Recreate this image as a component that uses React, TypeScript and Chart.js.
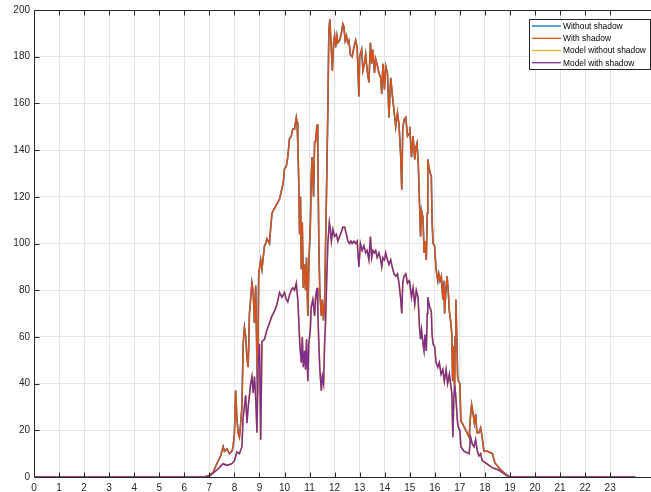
import React, { useEffect, useRef } from "react";
import { Chart, registerables } from "chart.js";

Chart.register(...registerables);

// ---------- data ----------
const xTickValues = [0, 1, 2, 3, 4, 5, 6, 7, 8, 9, 10, 11, 12, 13, 14, 15, 16, 17, 18, 19, 20, 21, 22, 23];
const yTickValues = [0, 20, 40, 60, 80, 100, 120, 140, 160, 180, 200];
const xMin = 0;
const xMax = 24.63;
const yMin = 0;
const yMax = 200;

const seriesLabels = ["Without shadow", "With shadow", "Model without shadow", "Model with shadow"];
const seriesColors = ["#0072BD", "#D95319", "#EDB120", "#7E2F8E"];

// measured power (hours of day)
const measuredHours = [
  0, 6.8, 7.0, 7.15, 7.3, 7.45, 7.55, 7.6, 7.7, 7.8, 7.9, 7.95, 8.0, 8.05, 8.1, 8.15, 8.2, 8.25, 8.3, 8.35,
  8.4, 8.45, 8.5, 8.55, 8.6, 8.7, 8.75, 8.8, 8.85, 8.92, 8.97, 9.05, 9.1, 9.2, 9.25, 9.3, 9.4, 9.45, 9.5, 9.65,
  9.8, 9.95, 10.0, 10.07, 10.13, 10.2, 10.27, 10.33, 10.4, 10.47, 10.5, 10.53, 10.57, 10.6, 10.64, 10.67, 10.71, 10.75, 10.8, 10.84,
  10.88, 10.93, 10.97, 11.03, 11.07, 11.1, 11.16, 11.2, 11.24, 11.3, 11.33, 11.37, 11.41, 11.47, 11.51, 11.56, 11.6, 11.64, 11.68, 11.73,
  11.77, 11.81, 11.87, 11.91, 11.96, 12.0, 12.04, 12.09, 12.13, 12.2, 12.27, 12.33, 12.37, 12.42, 12.47, 12.52, 12.57, 12.63, 12.7, 12.77,
  12.84, 12.9, 12.97, 13.0, 13.08, 13.13, 13.19, 13.24, 13.3, 13.37, 13.43, 13.48, 13.53, 13.59, 13.64, 13.71, 13.77, 13.84, 13.88, 13.93,
  13.99, 14.04, 14.11, 14.17, 14.24, 14.31, 14.37, 14.44, 14.51, 14.57, 14.64, 14.68, 14.72, 14.77, 14.84, 14.91, 14.97, 15.0, 15.07, 15.13,
  15.2, 15.24, 15.29, 15.34, 15.39, 15.43, 15.47, 15.53, 15.57, 15.61, 15.66, 15.7, 15.72, 15.76, 15.82, 15.86, 15.89, 15.93, 15.99, 16.05,
  16.12, 16.16, 16.21, 16.26, 16.32, 16.36, 16.39, 16.45, 16.49, 16.54, 16.58, 16.64, 16.68, 16.71, 16.75, 16.79, 16.81, 16.84, 16.88, 16.91,
  16.95, 17.0, 17.04, 17.1, 17.24, 17.37, 17.43, 17.47, 17.53, 17.58, 17.63, 17.68, 17.76, 17.83, 17.89, 17.96, 18.1, 18.3, 18.4, 18.6,
  18.8, 19.0, 24.0,
];
const withShadow = [
  0, 0, 0.7, 2, 5.7, 9, 13, 11, 12, 10, 11, 13, 18.6, 37, 25, 18.6, 17, 23, 30, 57,
  64, 60, 51, 47, 70, 83, 79, 66, 82, 35, 87, 93, 89, 99, 100, 102, 100, 107, 113, 116,
  119, 126, 132, 133, 137, 145, 146, 149, 149, 154, 152, 143, 126, 104, 120, 89, 109, 81, 91, 80,
  94, 69, 91, 107, 129, 137, 120, 143, 144, 151, 140, 100, 79, 69, 76, 67, 74, 100, 124, 157,
  191, 196, 183, 174, 186, 189, 184, 189, 186, 187, 190, 194, 193, 187, 189, 186, 187, 181, 180, 184,
  187, 184, 163, 180, 183, 174, 177, 181, 174, 169, 186, 177, 183, 173, 179, 176, 173, 171, 164, 177,
  166, 176, 173, 154, 171, 163, 157, 150, 156, 151, 137, 123, 149, 153, 154, 146, 147, 150, 137, 146,
  136, 141, 143, 134, 117, 103, 114, 111, 96, 101, 93, 113, 136, 133, 130, 129, 110, 100, 99, 89,
  84, 87, 84, 86, 76, 84, 70, 81, 86, 79, 71, 66, 61, 41, 56, 37, 60, 76, 59, 43,
  41, 40, 24, 23, 20, 17, 27, 31, 27, 23, 27, 19, 19, 21, 17, 11, 11, 10, 6, 3.5,
  1.5, 0, 0,
];
const withoutShadow = [...withShadow];

// model power (hours of day)
const modelHours = [
  0, 6.8, 7.0, 7.3, 7.55, 7.7, 7.9, 8.0, 8.1, 8.2, 8.3, 8.35, 8.4, 8.45, 8.5, 8.55, 8.65, 8.7, 8.75, 8.8,
  8.85, 8.9, 8.95, 9.0, 9.05, 9.1, 9.2, 9.3, 9.4, 9.5, 9.6, 9.7, 9.8, 9.9, 10.0, 10.07, 10.13, 10.2, 10.27, 10.33,
  10.4, 10.47, 10.53, 10.57, 10.61, 10.67, 10.71, 10.75, 10.8, 10.84, 10.88, 10.93, 10.97, 11.03, 11.07, 11.13, 11.2, 11.24, 11.3, 11.33,
  11.37, 11.41, 11.47, 11.51, 11.56, 11.6, 11.64, 11.68, 11.73, 11.79, 11.83, 11.87, 11.93, 12.0, 12.07, 12.13, 12.2, 12.27, 12.33, 12.4,
  12.47, 12.53, 12.6, 12.65, 12.7, 12.77, 12.84, 12.9, 12.97, 13.03, 13.1, 13.17, 13.24, 13.3, 13.37, 13.43, 13.48, 13.53, 13.59, 13.64,
  13.7, 13.77, 13.84, 13.88, 13.93, 13.99, 14.04, 14.11, 14.17, 14.24, 14.3, 14.37, 14.44, 14.51, 14.57, 14.64, 14.68, 14.72, 14.77, 14.84,
  14.91, 14.97, 15.0, 15.07, 15.13, 15.2, 15.26, 15.33, 15.39, 15.43, 15.47, 15.53, 15.57, 15.61, 15.66, 15.7, 15.72, 15.79, 15.86, 15.89,
  15.93, 15.99, 16.05, 16.12, 16.18, 16.25, 16.32, 16.38, 16.45, 16.51, 16.58, 16.64, 16.68, 16.72, 16.76, 16.8, 16.84, 16.91, 16.95, 17.0,
  17.04, 17.17, 17.37, 17.43, 17.5, 17.57, 17.63, 17.7, 17.76, 17.83, 17.89, 18.03, 18.29, 18.55, 18.75, 18.95, 24.0,
];
const modelWithShadow = [
  0, 0, 0.3, 3, 5.7, 5, 5.7, 7, 10.7, 10, 13, 26, 30, 35, 23, 30, 40, 43, 36, 43,
  34, 19, 51, 57, 16, 58, 59, 63, 66, 69, 71, 74, 79, 77, 79, 76, 75, 78, 80, 81,
  80, 83, 76, 67, 57, 49, 60, 47, 54, 46, 59, 41, 57, 63, 73, 76, 69, 77, 81, 71,
  57, 46, 37, 43, 40, 57, 67, 83, 100, 109, 106, 101, 106, 103, 104, 101, 103, 105, 107, 107,
  104, 101, 100, 101, 100, 101, 100, 101, 90, 100, 97, 99, 96, 97, 93, 103, 94, 97, 96, 97,
  94, 96, 93, 90, 94, 93, 96, 93, 91, 93, 90, 87, 86, 87, 83, 76, 70, 83, 86, 87,
  83, 84, 83, 77, 81, 74, 80, 77, 64, 59, 63, 57, 54, 61, 54, 70, 77, 73, 71, 61,
  57, 56, 49, 47, 49, 44, 46, 41, 46, 40, 44, 39, 36, 17, 34, 39, 34, 23, 21, 20,
  13, 11, 10, 17, 14, 13, 16, 11, 9, 10, 7, 6, 4, 3, 1.5, 0, 0,
];
const modelWithoutShadow = [...modelWithShadow];

// ---------- styling helpers ----------
const AXIS_COLOR = "#262626";
const FONT = "'Liberation Sans', Arial, Helvetica, sans-serif";

const toPoints = (xs: number[], ys: number[]) => xs.map((x, i) => ({ x, y: ys[i] }));

const framePlugin = {
  id: "matlabFrame",
  afterDatasetsDraw(chart: any) {
    const { ctx, chartArea: a, scales } = chart;
    const xs = scales.x;
    const ys = scales.y;
    const L = Math.round(a.left) + 0.5;
    const B = Math.round(a.bottom) + 0.5;
    const T = Math.round(a.top) + 0.5;
    const R = a.right + 2;
    ctx.save();
    ctx.strokeStyle = AXIS_COLOR;
    ctx.lineWidth = 1;
    ctx.beginPath();
    ctx.moveTo(R, T);
    ctx.lineTo(L, T);
    ctx.lineTo(L, B);
    ctx.lineTo(R, B);
    const tl = 5;
    xTickValues.forEach((v) => {
      const px = Math.round(xs.getPixelForValue(v)) + 0.5;
      ctx.moveTo(px, B);
      ctx.lineTo(px, B - tl);
      ctx.moveTo(px, T);
      ctx.lineTo(px, T + tl);
    });
    yTickValues.forEach((v) => {
      const py = Math.round(ys.getPixelForValue(v)) + 0.5;
      ctx.moveTo(L, py);
      ctx.lineTo(L + tl, py);
    });
    ctx.stroke();
    ctx.restore();
  },
};

const legendPlugin = {
  id: "matlabLegend",
  afterDraw(chart: any) {
    const { ctx } = chart;
    const boxL = 529.5;
    const boxT = 19.5;
    const boxW = 121;
    const boxH = 50;
    ctx.save();
    ctx.fillStyle = "#ffffff";
    ctx.fillRect(boxL, boxT, boxW, boxH);
    ctx.strokeStyle = AXIS_COLOR;
    ctx.lineWidth = 1;
    ctx.strokeRect(boxL, boxT, boxW, boxH);
    ctx.font = `8.4px ${FONT}`;
    ctx.textBaseline = "middle";
    ctx.textAlign = "left";
    const rowY = [26, 38.3, 50.5, 62.7];
    chart.data.datasets.forEach((ds: any, i: number) => {
      const y = rowY[i];
      ctx.strokeStyle = seriesColors[i];
      ctx.lineWidth = 1.3;
      ctx.beginPath();
      ctx.moveTo(532, y);
      ctx.lineTo(561, y);
      ctx.stroke();
      ctx.fillStyle = "#000000";
      ctx.fillText(ds.label, 563, y + 0.5);
    });
    ctx.restore();
  },
};

export default function App() {
  const canvasRef = useRef<HTMLCanvasElement | null>(null);

  useEffect(() => {
    document.body.style.margin = "0";
    const canvas = canvasRef.current;
    if (!canvas) return;

    const seriesData = [
      toPoints(measuredHours, withoutShadow),
      toPoints(measuredHours, withShadow),
      toPoints(modelHours, modelWithoutShadow),
      toPoints(modelHours, modelWithShadow),
    ];
    const widths = [1.6, 1.5, 1.6, 1.5];
    const orders = [3, 2, 1, 0];

    const chart = new Chart(canvas, {
      type: "line",
      data: {
        datasets: seriesLabels.map((label, i) => ({
          label,
          data: seriesData[i],
          borderColor: seriesColors[i],
          backgroundColor: seriesColors[i],
          borderWidth: widths[i],
          pointRadius: 0,
          tension: 0,
          fill: false,
          order: orders[i],
        })),
      },
      options: {
        responsive: false,
        animation: false,
        events: [],
        layout: { padding: { left: 0, right: 0, top: 10, bottom: 0 } },
        plugins: {
          legend: { display: false },
          tooltip: { enabled: false },
          title: { display: false },
        },
        scales: {
          x: {
            type: "linear",
            min: xMin,
            max: xMax,
            afterBuildTicks: (scale: any) => {
              scale.ticks = xTickValues.map((v) => ({ value: v }));
            },
            afterFit: (scale: any) => {
              scale.height = 15;
            },
            ticks: {
              autoSkip: false,
              maxRotation: 0,
              padding: 5,
              color: AXIS_COLOR,
              font: { family: FONT, size: 10 },
              callback: (v: any) => String(v),
            },
            grid: { color: "#e4e4e4", lineWidth: 1, drawTicks: false },
            border: { display: false },
          },
          y: {
            type: "linear",
            min: yMin,
            max: yMax,
            afterBuildTicks: (scale: any) => {
              scale.ticks = yTickValues.map((v) => ({ value: v }));
            },
            afterFit: (scale: any) => {
              scale.width = 34;
            },
            ticks: {
              padding: 4,
              color: AXIS_COLOR,
              font: { family: FONT, size: 10 },
              callback: (v: any) => String(v),
            },
            grid: { color: "#e4e4e4", lineWidth: 1, drawTicks: false },
            border: { display: false },
          },
        },
      },
      plugins: [framePlugin, legendPlugin],
    });

    return () => {
      chart.destroy();
    };
  }, []);

  return (
    <div style={{ position: "absolute", left: 0, top: 0, width: 651, height: 492, background: "#ffffff" }}>
      <canvas ref={canvasRef} width={651} height={492} style={{ display: "block", width: 651, height: 492 }} />
    </div>
  );
}
